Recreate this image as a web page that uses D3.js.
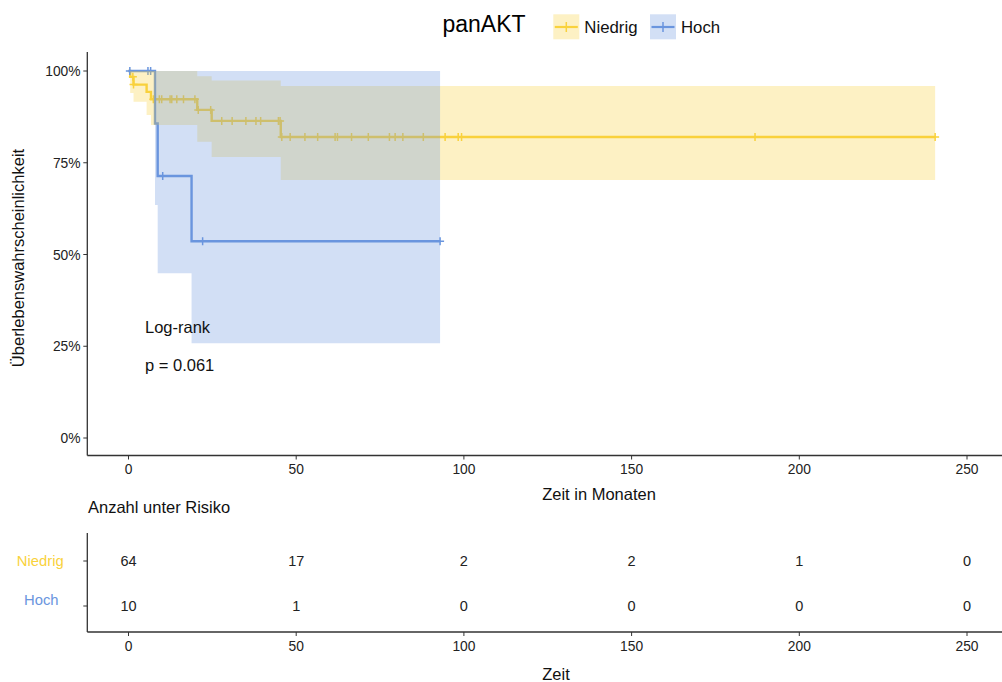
<!DOCTYPE html>
<html><head><meta charset="utf-8">
<script src="https://cdn.jsdelivr.net/npm/d3@7"></script>
<style>body{margin:0;background:#fff}svg{display:block}text{font-family:"Liberation Sans",Arial,sans-serif}</style>
</head><body>
<svg id="c" width="1002" height="682"></svg>
<script>
// ---------- data ----------
const groups = ["Niedrig", "Hoch"];
const colors = ["#F9D23C", "#6A95DE"];
// Niedrig (yellow) step curve
const niedrigTime  = [0, 0.5, 1.5, 5.4, 6.7, 20.5, 24.8, 45.4];
const niedrigSurv  = [1, 0.984, 0.963, 0.943, 0.923, 0.894, 0.864, 0.820];
const niedrigUpper = [1, 1, 1, 1, 1, 0.986, 0.974, 0.959];
const niedrigLower = [1, 0.94, 0.916, 0.880, 0.853, 0.807, 0.766, 0.703];
const niedrigEnd = 240.5;
const niedrigCensor = [1.3, 1.5, 7.4, 9.2, 9.9, 12.4, 12.9, 14.4, 16.4, 19.8, 20.8, 24.5, 27.8, 30.9, 35.0, 38.0, 39.4, 44.7, 45.2, 45.7, 48.2, 52.6, 56.4, 61.6, 62.3, 66.5, 71.5, 77.8, 79.5, 81.8, 87.9, 94.4, 98.3, 99.3, 186.8, 240.5];
// Hoch (blue) step curve
const hochTime  = [0, 7.9, 8.7, 18.8];
const hochSurv  = [1, 0.857, 0.714, 0.536];
const hochUpper = [1, 1, 1, 1];
const hochLower = [1, 0.635, 0.449, 0.258];
const hochEnd = 92.9;
const hochCensor = [0.4, 5.8, 6.6, 10.2, 22.1, 92.9];
// axes
const xTicks = [0, 50, 100, 150, 200, 250];
const yTicks = [0, 0.25, 0.5, 0.75, 1];
// risk table
const riskTimes = [0, 50, 100, 150, 200, 250];
const riskNiedrig = [64, 17, 2, 2, 1, 0];
const riskHoch = [10, 1, 0, 0, 0, 0];

// ---------- build ----------
function build(time, surv, up, lo, end, cens) {
  const pts = time.map((t, i) => ({t, s: surv[i], u: up[i], l: lo[i]}));
  const last = pts[pts.length - 1];
  pts.push({t: end, s: last.s, u: last.u, l: last.l});
  const censor = cens.map(t => {
    let s = 1;
    for (let i = 0; i < time.length; i++) if (time[i] <= t) s = surv[i];
    return {t, s};
  });
  return {pts, censor};
}
const series = [
  build(niedrigTime, niedrigSurv, niedrigUpper, niedrigLower, niedrigEnd, niedrigCensor),
  build(hochTime, hochSurv, hochUpper, hochLower, hochEnd, hochCensor)
];

const svg = d3.select("#c");
const x = d3.scaleLinear().domain([0, 250]).range([128.5, 967]);
const y = d3.scaleLinear().domain([0, 1]).range([438, 71]);
const axisCol = "#333";

const line = d3.line().x(d => x(d.t)).y(d => y(d.s)).curve(d3.curveStepAfter);
const area = d3.area().x(d => x(d.t)).y0(d => y(d.l)).y1(d => y(d.u)).curve(d3.curveStepAfter);

series.forEach((s, i) => {
  const g = svg.append("g");
  g.append("path").attr("d", line(s.pts)).attr("fill", "none")
    .attr("stroke", colors[i]).attr("stroke-width", 2.4);
  g.selectAll("path.c").data(s.censor).join("path").attr("class", "c")
    .attr("d", d => `M${x(d.t)-4},${y(d.s)}h8M${x(d.t)},${y(d.s)-4}v8`)
    .attr("stroke", colors[i]).attr("stroke-width", 1.5);
});
series.forEach((s, i) => {
  svg.append("path").attr("d", area(s.pts)).attr("fill", colors[i]).attr("fill-opacity", 0.3);
});

// axes main
const xAxisY = 455.5, yAxisX = 87.3;
svg.append("line").attr("x1", yAxisX).attr("x2", yAxisX).attr("y1", 52).attr("y2", xAxisY)
  .attr("stroke", axisCol).attr("stroke-width", 1.3);
svg.append("line").attr("x1", yAxisX).attr("x2", 1002).attr("y1", xAxisY).attr("y2", xAxisY)
  .attr("stroke", axisCol).attr("stroke-width", 1.3);
yTicks.forEach(v => {
  svg.append("line").attr("x1", yAxisX - 4).attr("x2", yAxisX).attr("y1", y(v)).attr("y2", y(v)).attr("stroke", axisCol);
  svg.append("text").attr("x", 80.5).attr("y", y(v) + 5).attr("text-anchor", "end")
    .attr("font-size", 13.8).attr("fill", "#222").text(d3.format(".0%")(v));
});
xTicks.forEach(v => {
  svg.append("line").attr("x1", x(v)).attr("x2", x(v)).attr("y1", xAxisY).attr("y2", xAxisY + 4).attr("stroke", axisCol);
  svg.append("text").attr("x", x(v)).attr("y", 473.5).attr("text-anchor", "middle")
    .attr("font-size", 13.8).attr("fill", "#222").text(v);
});
svg.append("text").attr("x", 599).attr("y", 500).attr("text-anchor", "middle")
  .attr("font-size", 16.5).attr("fill", "#111").text("Zeit in Monaten");
svg.append("text").attr("transform", "translate(24,258) rotate(-90)").attr("text-anchor", "middle")
  .attr("font-size", 16.5).attr("fill", "#111").text("Überlebenswahrscheinlichkeit");

// log-rank annotation
svg.append("text").attr("x", 145).attr("y", 333).attr("font-size", 16.5).attr("fill", "#111").text("Log-rank");
svg.append("text").attr("x", 145).attr("y", 371).attr("font-size", 16.5).attr("fill", "#111").text("p = 0.061");

// title + legend
svg.append("text").attr("x", 442.5).attr("y", 31.5).attr("font-size", 23).attr("fill", "#000").text("panAKT");
const legX = [553.3, 650];
groups.forEach((gname, i) => {
  const lx = legX[i];
  svg.append("rect").attr("x", lx).attr("y", 14.3).attr("width", 26).attr("height", 25)
    .attr("fill", colors[i]).attr("fill-opacity", 0.3);
  svg.append("line").attr("x1", lx + 1.5).attr("x2", lx + 24.5).attr("y1", 27).attr("y2", 27)
    .attr("stroke", colors[i]).attr("stroke-width", 2.2);
  svg.append("line").attr("x1", lx + 13).attr("x2", lx + 13).attr("y1", 22).attr("y2", 32)
    .attr("stroke", colors[i]).attr("stroke-width", 1.5);
  svg.append("text").attr("x", lx + 31).attr("y", 33.3).attr("font-size", 16.8).attr("fill", "#111").text(gname);
});

// risk table
svg.append("text").attr("x", 88).attr("y", 513).attr("font-size", 16.5).attr("fill", "#111").text("Anzahl unter Risiko");
const rowY = [561, 606];
const rtAxisY = 632;
svg.append("line").attr("x1", yAxisX).attr("x2", yAxisX).attr("y1", 533).attr("y2", rtAxisY)
  .attr("stroke", axisCol).attr("stroke-width", 1.3);
svg.append("line").attr("x1", yAxisX).attr("x2", 1002).attr("y1", rtAxisY).attr("y2", rtAxisY)
  .attr("stroke", axisCol).attr("stroke-width", 1.3);
const labelY = [561, 600];
const labelX = [40.3, 41.3];
groups.forEach((gname, i) => {
  svg.append("line").attr("x1", yAxisX - 4).attr("x2", yAxisX).attr("y1", rowY[i]).attr("y2", rowY[i]).attr("stroke", axisCol);
  svg.append("text").attr("x", labelX[i]).attr("y", labelY[i] + 5).attr("text-anchor", "middle")
    .attr("font-size", 14.8).attr("fill", colors[i]).text(gname);
});
[riskNiedrig, riskHoch].forEach((row, i) => {
  row.forEach((v, j) => {
    svg.append("text").attr("x", x(riskTimes[j])).attr("y", rowY[i] + 5).attr("text-anchor", "middle")
      .attr("font-size", 14.5).attr("fill", "#222").text(v);
  });
});
xTicks.forEach(v => {
  svg.append("line").attr("x1", x(v)).attr("x2", x(v)).attr("y1", rtAxisY).attr("y2", rtAxisY + 4).attr("stroke", axisCol);
  svg.append("text").attr("x", x(v)).attr("y", 651).attr("text-anchor", "middle")
    .attr("font-size", 13.8).attr("fill", "#222").text(v);
});
svg.append("text").attr("x", 556).attr("y", 680).attr("text-anchor", "middle")
  .attr("font-size", 16.5).attr("fill", "#111").text("Zeit");
</script>
</body></html>
